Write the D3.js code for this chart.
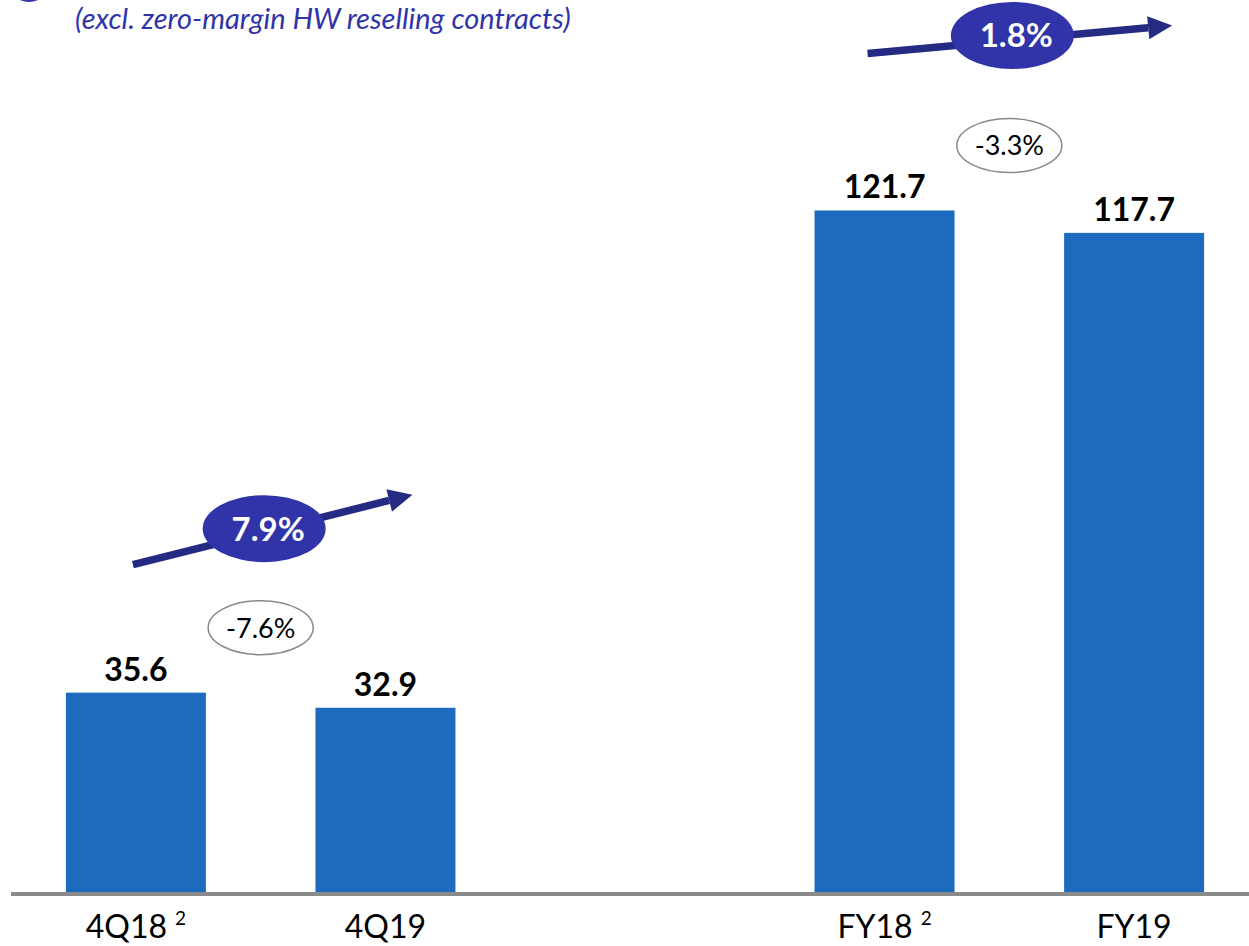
<!DOCTYPE html>
<html>
<head>
<meta charset="utf-8">
<script src="https://cdn.jsdelivr.net/npm/d3@7"></script>
<style>
	body { margin: 0; background: #fff; }
	svg { display: block; font-family: Lato, "Open Sans", sans-serif; }
</style>
</head>
<body>
<svg id="chart"></svg>
<script>

// bars: EUR m
var categories = ["4Q18", "4Q19", "", "FY18", "FY19"];
var values = [35.6, 32.9, null, 121.7, 117.7];
var footnotes = ["2", "", "", "2", ""];

// yoy growth between pairs
var pairs = [ ["4Q18", "4Q19"], ["FY18", "FY19"] ];
var changes = ["-7.6%", "-3.3%"];
var organic = ["7.9%", "1.8%"];

var subtitle = "(excl. zero-margin HW reselling contracts)";

// arrow / bubble placement, offsets from the bars of each pair
var layout = [
	{ sx: -3,  sy: -128, ex: 27, ey: -198, bx: 3.5, by: -164 },
	{ sx: -17, sy: -157, ex: 38, ey: -185, bx: 3,   by: -175 },
];

const W = 1249, H = 946;
const base = 892;

var svg = d3.select("#chart").attr("width", W).attr("height", H);

var x = d3.scaleBand(categories, [11, 1259]).paddingInner(0.439).paddingOuter(0.22);
var y = d3.scaleLinear([0, 100], [base, base - 560]);

var data = categories.map((c, i) => ({ cat: c, val: values[i], note: footnotes[i] })).filter(d => d.val !== null);

// header remnant + subtitle
svg.append("circle").attr("cx", 29).attr("cy", -20).attr("r", 22).attr("fill", "#3034a8");
svg.append("text")
	.attr("x", 75).attr("y", 29)
	.attr("font-size", 29).attr("font-style", "italic")
	.attr("fill", "#3034a8")
	.text(subtitle);

svg.selectAll(".bar")
	.data(data)
	.join("rect")
	.attr("class", "bar")
	.attr("x", d => x(d.cat))
	.attr("y", d => y(d.val))
	.attr("width", x.bandwidth())
	.attr("height", d => base - y(d.val))
	.attr("fill", "#1d6bbf");

svg.selectAll(".val")
	.data(data)
	.join("text")
	.attr("class", "val")
	.attr("x", d => x(d.cat) + x.bandwidth()/2)
	.attr("y", d => y(d.val) - 12)
	.attr("text-anchor", "middle")
	.attr("font-size", 32).attr("font-weight", "bold")
	.text(d => d.val.toFixed(1));

// axis line
svg.append("line")
	.attr("x1", 11).attr("x2", W)
	.attr("y1", base + 2).attr("y2", base + 2)
	.attr("stroke", "#8a8a8a").attr("stroke-width", 4);

var cat = svg.selectAll(".cat")
	.data(data)
	.join("text")
	.attr("class", "cat")
	.attr("x", d => x(d.cat) + x.bandwidth()/2)
	.attr("y", 938)
	.attr("text-anchor", "middle")
	.attr("font-size", 32);
cat.append("tspan").text(d => d.cat);
cat.append("tspan")
	.attr("dx", 8).attr("dy", -13).attr("font-size", 19)
	.text(d => d.note);

// growth annotations
const cx = c => x(c) + x.bandwidth()/2;

pairs.forEach((p, i) => {

	var l = layout[i];
	var xa = cx(p[0]), xb = cx(p[1]);
	var top = y(d3.max(p.map(c => values[categories.indexOf(c)])));

	// reported change bubble
	var mx = (xa + xb)/2;
	svg.append("ellipse")
		.attr("cx", mx).attr("cy", top - 65)
		.attr("rx", 52.5).attr("ry", 27)
		.attr("fill", "#fff").attr("stroke", "#8a8a8a").attr("stroke-width", 1.5);
	svg.append("text")
		.attr("x", mx).attr("y", top - 65 + 10)
		.attr("text-anchor", "middle").attr("font-size", 27)
		.text(changes[i]);

	// organic arrow
	var x0 = xa + l.sx, y0 = top + l.sy, x1 = xb + l.ex, y1 = top + l.ey;
	var ang = Math.atan2(y1 - y0, x1 - x0);
	var hl = 24, hw = 11.5;
	var bxp = x1 - hl*Math.cos(ang), byp = y1 - hl*Math.sin(ang);
	var nx = -Math.sin(ang), ny = Math.cos(ang);

	svg.append("line")
		.attr("x1", x0).attr("y1", y0).attr("x2", bxp).attr("y2", byp)
		.attr("stroke", "#252a82").attr("stroke-width", 7.5);
	svg.append("path")
		.attr("d", `M${x1},${y1}L${bxp + nx*hw},${byp + ny*hw}L${bxp - nx*hw},${byp - ny*hw}Z`)
		.attr("fill", "#252a82");

	svg.append("ellipse")
		.attr("cx", mx + l.bx).attr("cy", top + l.by)
		.attr("rx", 61.5).attr("ry", 33.5)
		.attr("fill", "#3034a8");
	svg.append("text")
		.attr("x", mx + l.bx + 4).attr("y", top + l.by + 12)
		.attr("text-anchor", "middle")
		.attr("font-size", 33).attr("font-weight", "bold").attr("fill", "#fff")
		.text(organic[i]);

});

</script>
</body>
</html>
